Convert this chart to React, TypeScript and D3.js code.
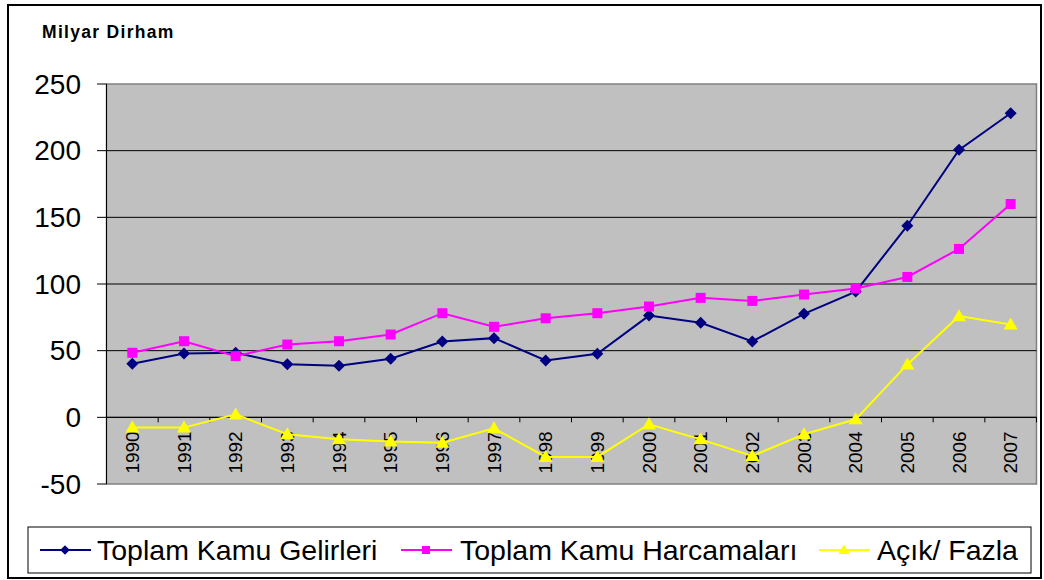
import React from 'react';
import * as d3 from 'd3';

const years = ['1990', '1991', '1992', '1993', '1994', '1995', '1996', '1997', '1998', '1999', '2000', '2001', '2002', '2003', '2004', '2005', '2006', '2007'];
const gelirler = [40.2, 47.9, 48.4, 39.9, 38.7, 43.9, 56.9, 59.4, 42.7, 47.7, 76.3, 70.9, 56.9, 77.6, 94.3, 143.7, 200.6, 228.1];
const harcamalar = [48.4, 57.1, 45.9, 54.6, 57.1, 62.1, 78.1, 67.9, 74.3, 78.1, 83.1, 89.6, 87.3, 92.1, 96.6, 105.3, 126.3, 160];
const acikFazla = [-7.7, -7.7, 2.2, -12.7, -16.5, -18.2, -19, -8.2, -29.7, -29.7, -5.2, -16.5, -29, -12.7, -1.5, 39.7, 75.9, 69.6];
const yTicks = [-50, 0, 50, 100, 150, 200, 250];
const seriesNames = ['Toplam Kamu Gelirleri', 'Toplam Kamu Harcamaları', 'Açık/ Fazla'];

const FONT = "Arial, 'Liberation Sans', sans-serif";

const series = [
  { name: seriesNames[0], values: gelirler, color: '#000080', marker: 'diamond' },
  { name: seriesNames[1], values: harcamalar, color: '#FF00FF', marker: 'square' },
  { name: seriesNames[2], values: acikFazla, color: '#FFFF00', marker: 'triangle' },
];

const plot = { left: 106.5, right: 1036.5, top: 84, bottom: 484 };

function Marker({ type, x, y, color, s = 1 }: { type: string; x: number; y: number; color: string; s?: number }) {
  if (type === 'diamond') {
    return <path d={`M${x},${y - 6 * s}L${x + 6 * s},${y}L${x},${y + 6 * s}L${x - 6 * s},${y}Z`} fill={color} />;
  }
  if (type === 'square') {
    return <rect x={x - 5 * s} y={y - 5 * s} width={10 * s} height={10 * s} fill={color} />;
  }
  return <path d={`M${x},${y - 7 * s}L${x + 7 * s},${y + 5 * s}L${x - 7 * s},${y + 5 * s}Z`} fill={color} />;
}

export default function App() {
  const x = d3.scaleBand().domain(years).range([plot.left, plot.right]).paddingInner(0).paddingOuter(0);
  const y = d3.scaleLinear().domain([-50, 250]).range([plot.bottom, plot.top]);
  const cx = (yr: string) => (x(yr) as number) + x.bandwidth() / 2;

  const line = d3
    .line<number>()
    .x((_, i) => cx(years[i]))
    .y(d => y(d));

  const legendItems = [
    { lineX: 40, textX: 97 },
    { lineX: 401, textX: 460 },
    { lineX: 819, textX: 877 },
  ];
  const legendY = 550;

  return (
    <div style={{ position: 'absolute', left: 0, top: 0 }}>
      <svg width={1044} height={580} style={{ display: 'block', fontFamily: FONT }}>
        <rect x={0} y={0} width={1044} height={580} fill="#fff" />
        <rect x={8} y={5} width={1033} height={573} fill="none" stroke="#000" strokeWidth={2} />

        <text x={42} y={38} fontSize={17.5} fontWeight="bold" letterSpacing={1.3}>
          Milyar Dirham
        </text>

        {/* plot area */}
        <rect
          x={plot.left}
          y={plot.top}
          width={plot.right - plot.left}
          height={plot.bottom - plot.top}
          fill="#C0C0C0"
          stroke="#808080"
          strokeWidth={1.5}
        />

        {yTicks.map(t => (
          <g key={t}>
            {t !== 250 && t !== -50 && (
              <line x1={plot.left} x2={plot.right} y1={y(t)} y2={y(t)} stroke="#000" strokeWidth={1} />
            )}
            <line x1={97} x2={plot.left} y1={y(t)} y2={y(t)} stroke="#000" strokeWidth={1} />
            <text x={81} y={y(t)} fontSize={28} textAnchor="end" dominantBaseline="central">
              {t}
            </text>
          </g>
        ))}
        <line x1={plot.left} x2={plot.left} y1={plot.top} y2={plot.bottom} stroke="#000" strokeWidth={1} />

        {/* category axis at zero */}
        <line x1={plot.left} x2={plot.right} y1={y(0)} y2={y(0)} stroke="#000" strokeWidth={1} />
        {years.map(yr => (
          <line
            key={'t' + yr}
            x1={x(yr) as number}
            x2={x(yr) as number}
            y1={y(0)}
            y2={y(0) + 5}
            stroke="#000"
            strokeWidth={1}
          />
        ))}
        <line x1={plot.right} x2={plot.right} y1={y(0)} y2={y(0) + 5} stroke="#000" strokeWidth={1} />
        {years.map(yr => (
          <text
            key={'l' + yr}
            transform={`translate(${cx(yr)},${y(0) + 14}) rotate(-90)`}
            fontSize={19}
            textAnchor="end"
            dominantBaseline="central"
          >
            {yr}
          </text>
        ))}

        {series.map(s => (
          <g key={s.name}>
            <path d={line(s.values) || ''} fill="none" stroke={s.color} strokeWidth={2} />
            {s.values.map((v, i) => (
              <Marker key={i} type={s.marker} x={cx(years[i])} y={y(v)} color={s.color} />
            ))}
          </g>
        ))}

        {/* legend */}
        <rect x={28} y={527} width={1003} height={46} fill="#fff" stroke="#000" strokeWidth={1} />
        {series.map((s, i) => (
          <g key={'lg' + s.name}>
            <line
              x1={legendItems[i].lineX}
              x2={legendItems[i].lineX + 51}
              y1={legendY}
              y2={legendY}
              stroke={s.color}
              strokeWidth={2}
            />
            <Marker type={s.marker} x={legendItems[i].lineX + 25} y={legendY} color={s.color} s={0.8} />
            <text x={legendItems[i].textX} y={legendY} fontSize={28.5} dominantBaseline="central">
              {s.name}
            </text>
          </g>
        ))}
      </svg>
    </div>
  );
}
